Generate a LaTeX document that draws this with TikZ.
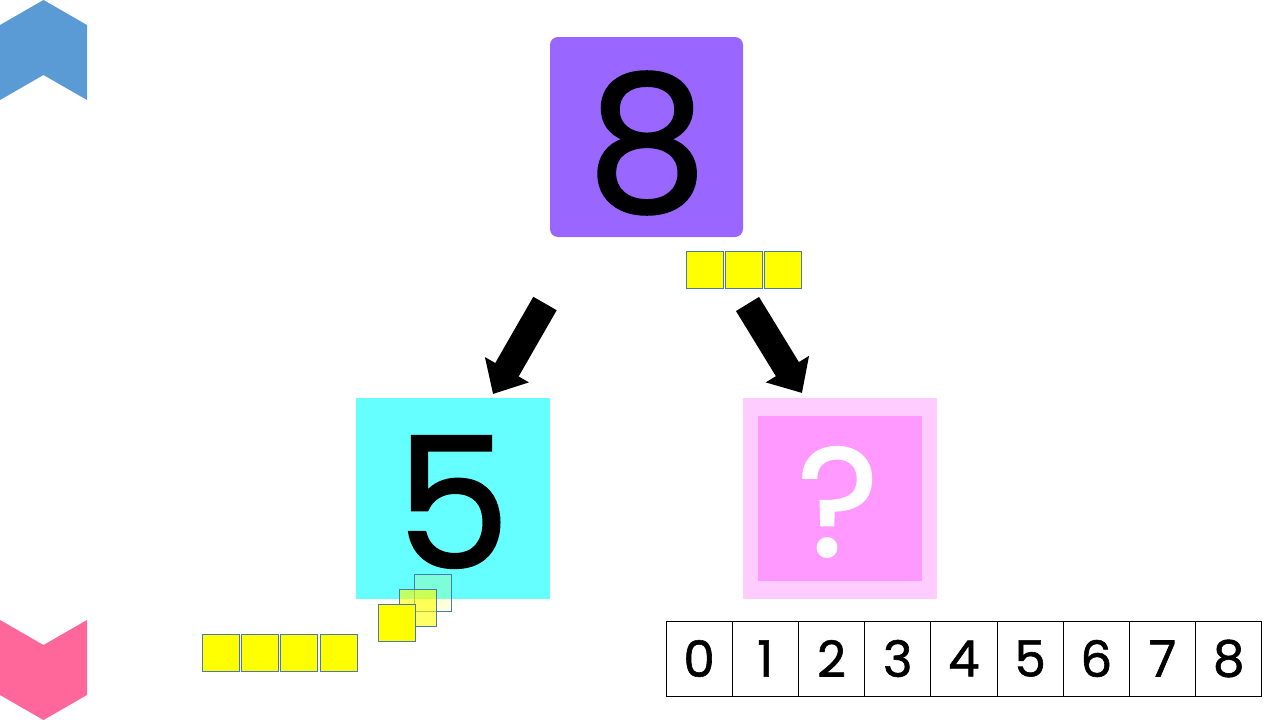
\documentclass[tikz,border=0pt]{standalone}
\usepackage{fontspec}
\setmainfont{Poppins}[FakeBold=1.2]
\newfontfamily\numfont{Poppins}[FakeBold=1.2]
\usetikzlibrary{arrows.meta}
\definecolor{purp}{HTML}{9966FF}
\definecolor{cyanb}{HTML}{66FFFF}
\definecolor{pinko}{HTML}{FFCCFF}
\definecolor{pinki}{HTML}{FF99FF}
\definecolor{yel}{HTML}{FFFF00}
\definecolor{sqb}{HTML}{4A78B0}
\definecolor{chevb}{HTML}{5B9BD5}
\definecolor{chevp}{HTML}{FF6699}
\tikzset{
  bigbox/.style={minimum width=194pt, minimum height=201pt, inner sep=0pt},
  unitsq/.style={draw=sqb, line width=1pt, fill=yel, minimum width=37pt, minimum height=37pt, inner sep=0pt},
  cell/.style={draw=black, line width=1pt, minimum width=66.2pt, minimum height=75pt, inner sep=0pt, font=\numfont\fontsize{50}{50}\selectfont},
  bigarrow/.style={line width=27pt, -{Triangle[width=49pt, length=28pt]}},
}
\begin{document}
\begin{tikzpicture}[x=1pt,y=-1pt]
\useasboundingbox (0,0) rectangle (1280,720);
% chevrons
\fill[chevb] (0,25) -- (43.5,0) -- (87,25) -- (87,100) -- (43.5,75) -- (0,100) -- cycle;
\fill[chevp] (0,620) -- (43.5,645) -- (87,620) -- (87,695) -- (43.5,720) -- (0,695) -- cycle;
% boxes
\node[bigbox, fill=purp, rounded corners=8pt, minimum width=193pt, minimum height=200pt] (eight) at (646.5,137) {};
\node[font=\numfont\fontsize{190}{190}\selectfont] (eightt) at (647,143) {8};
\node[bigbox, fill=cyanb] (five) at (453,498.5) {};
\node[font=\numfont\fontsize{182}{182}\selectfont] (fivet) at (453,502) {5};
\node[bigbox, fill=pinko] (q) at (840,498.5) {};
\node[fill=pinki, minimum width=164pt, minimum height=165pt, inner sep=0pt] (qin) at (840,498.5) {};
\node[font=\numfont\fontsize{155}{155}\selectfont, text=white] (qt) at (838,502) {?};
% yellow squares under 8
\node[unitsq] (t1) at (705,269.5) {};
\node[unitsq] (t2) at (744,269.5) {};
\node[unitsq] (t3) at (783,269.5) {};
% yellow squares bottom-left
\node[unitsq] (b1) at (221,653) {};
\node[unitsq] (b2) at (260,653) {};
\node[unitsq] (b3) at (299,653) {};
\node[unitsq] (b4) at (338.5,653) {};
% moving squares
\node[unitsq, fill opacity=0.15] (m3) at (433,593) {};
\node[unitsq, fill opacity=0.6] (m2) at (418,607.5) {};
\node[unitsq] (m1) at (397,622.5) {};
% arrows
\coordinate (la1) at (545,303.5);
\coordinate (la2) at (493,394);
\coordinate (ra1) at (747.5,304);
\coordinate (ra2) at (802,393);
\draw[bigarrow] (la1) -- (la2);
\draw[bigarrow] (ra1) -- (ra2);
% number line
\foreach \i in {0,...,8} {
  \node[cell] (n\i) at ({699.1+66.2*\i},658.5) {\i};
}
\end{tikzpicture}
\end{document}
